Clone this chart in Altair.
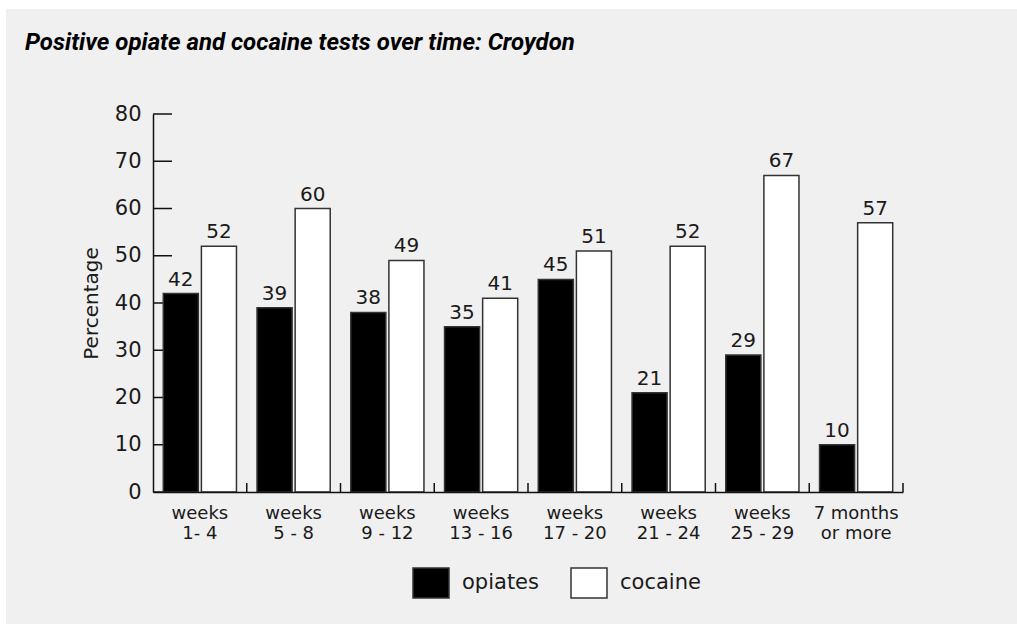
import altair as alt
import pandas as pd

# Test periods (two-line labels split on "|") and positive-test percentages
periods = [
    "weeks|1- 4", "weeks|5 - 8", "weeks|9 - 12", "weeks|13 - 16",
    "weeks|17 - 20", "weeks|21 - 24", "weeks|25 - 29", "7 months|or more",
]
opiates = [42, 39, 38, 35, 45, 21, 29, 10]
cocaine = [52, 60, 49, 41, 51, 52, 67, 57]
series = ["opiates", "cocaine"]
y_ticks = [0, 10, 20, 30, 40, 50, 60, 70, 80]

rows = []
for p, o, c in zip(periods, opiates, cocaine):
    rows.append({"period": p, "series": "opiates", "value": o})
    rows.append({"period": p, "series": "cocaine", "value": c})
df = pd.DataFrame(rows)
ticks_df = pd.DataFrame({"t": y_ticks})
bounds_df = pd.DataFrame({"period": periods})

FONT = "DejaVu Sans"
TEXT = "#1a1a1a"
W, H = 750, 378
PAD = {"left": 153, "top": 114, "right": 114, "bottom": 132}

y_scale = alt.Scale(domain=[0, 80], nice=False)
x_scale = alt.Scale(paddingInner=0, paddingOuter=0)
off_scale = alt.Scale(paddingInner=0.08, paddingOuter=0.27)
x_sort = periods

x_axis = alt.Axis(
    title=None,
    labelAngle=0,
    ticks=False,
    domainColor="#111",
    domainWidth=1.5,
    labelExpr="split(datum.label, '|')",
    labelFont=FONT,
    labelFontSize=18,
    labelColor=TEXT,
    labelPadding=12,
    labelLineHeight=20,
    zindex=1,
)
y_axis = alt.Axis(
    title="Percentage",
    values=y_ticks,
    ticks=False,
    grid=False,
    domainColor="#111",
    domainWidth=1.5,
    labelFont=FONT,
    labelFontSize=21,
    labelColor=TEXT,
    labelPadding=12,
    titleFont=FONT,
    titleFontSize=20,
    titleFontWeight="normal",
    titleColor=TEXT,
    titlePadding=13,
    zindex=1,
)

# light grey panel behind the whole figure
panel = alt.Chart(pd.DataFrame({"k": [0]})).mark_rect(color="#f0f0f0").encode(
    x=alt.value(6 - PAD["left"]),
    x2=alt.value(W + PAD["right"]),
    y=alt.value(9 - PAD["top"]),
    y2=alt.value(H + PAD["bottom"]),
)

# inward tick marks on the value axis
ytick_marks = alt.Chart(ticks_df).mark_rule(color="#111", strokeWidth=1.5).encode(
    y=alt.Y("t:Q", scale=y_scale, axis=y_axis),
    x=alt.value(0),
    x2=alt.value(19),
)

bars = alt.Chart(df).mark_bar(stroke="#333", strokeWidth=1.5).encode(
    x=alt.X("period:N", sort=x_sort, scale=x_scale, axis=x_axis),
    xOffset=alt.XOffset("series:N", sort=series, scale=off_scale),
    y=alt.Y("value:Q", scale=y_scale, axis=y_axis),
    fill=alt.Fill(
        "series:N",
        sort=series,
        scale=alt.Scale(domain=series, range=["#000000", "#ffffff"]),
        legend=alt.Legend(
            title=None,
            orient="none",
            direction="horizontal",
            legendX=259,
            legendY=450,
            symbolType="M-1,-0.83H1V0.83H-1Z",
            symbolSize=1296,
            symbolStrokeColor="#333",
            symbolStrokeWidth=1.5,
            symbolOpacity=1,
            labelFont=FONT,
            labelFontSize=21,
            labelColor=TEXT,
            labelOffset=12,
            columnPadding=29,
        ),
    ),
)

labels = alt.Chart(df).mark_text(
    baseline="alphabetic", dy=-8, font=FONT, fontSize=20, color=TEXT
).encode(
    x=alt.X("period:N", sort=x_sort, scale=x_scale, axis=x_axis),
    xOffset=alt.XOffset("series:N", sort=series, scale=off_scale),
    y=alt.Y("value:Q", scale=y_scale, axis=y_axis),
    text=alt.Text("value:Q"),
)

# short upward ticks marking the boundaries between periods
bounds = alt.Chart(bounds_df).mark_rule(color="#111", strokeWidth=1.5).encode(
    x=alt.X("period:N", sort=x_sort, scale=x_scale, axis=x_axis, bandPosition=1),
    y=alt.datum(0, scale=y_scale),
    y2=alt.datum(1.9),
)

chart = alt.layer(panel, ytick_marks, bars, labels, bounds).properties(
    width=W,
    height=H,
    padding=PAD,
    autosize=alt.AutoSizeParams(type="none"),
    background="#ffffff",
    title=alt.TitleParams(
        "Positive opiate and cocaine tests over time: Croydon",
        anchor="start",
        frame="group",
        dx=25 - PAD["left"],
        offset=-65,
        baseline="alphabetic",
        font="Roboto",
        fontSize=24,
        fontWeight="bold",
        fontStyle="italic",
        color="#000",
    ),
).configure_view(stroke=None)

chart.save("out.html", embed_options={"renderer": "svg", "actions": False})
